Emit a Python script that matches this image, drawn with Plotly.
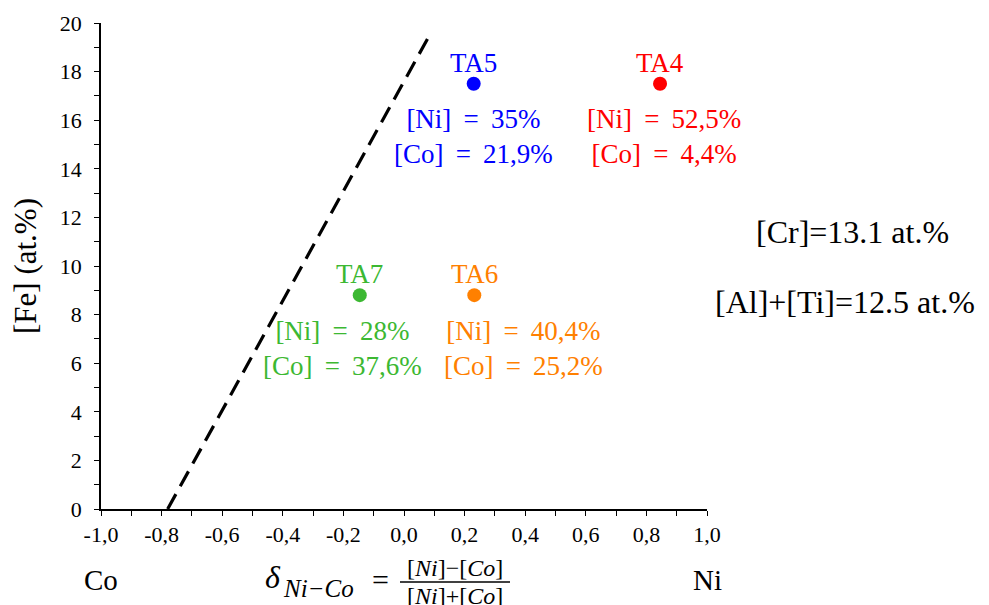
import plotly.graph_objects as go

# alloy compositions (at.%)
alloys = ["TA5", "TA4", "TA7", "TA6"]
ni_pct = ["35", "52,5", "28", "40,4"]
co_pct = ["21,9", "4,4", "37,6", "25,2"]
delta = [0.23, 0.845, -0.146, 0.232]
fe = [17.5, 17.5, 8.8, 8.8]
colors = ["#0000ff", "#ff0000", "#3cb832", "#ff8000"]

# dashed boundary line
line_x = [-0.78, 0.08]
line_y = [0, 19.4]

x_ticks = [-1.0, -0.8, -0.6, -0.4, -0.2, 0.0, 0.2, 0.4, 0.6, 0.8, 1.0]
x_ticktext = ["-1,0", "-0,8", "-0,6", "-0,4", "-0,2", "0,0", "0,2", "0,4", "0,6", "0,8", "1,0"]
y_ticks = [0, 2, 4, 6, 8, 10, 12, 14, 16, 18, 20]

W, H = 989, 605
OFF = 8  # page body margin
L, R, T, B = 101 - OFF, 282 + OFF, 23 - OFF, 96 + OFF
FONT = "Liberation Serif, DejaVu Serif, serif"
EQ = " \u2009=\u2009 "


def px(x):
    return (x - OFF - L) / (W - L - R)


def py(y):
    return (H - B - (y - OFF)) / (H - B - T)


def label(x, y, text, size, **kw):
    fig.add_annotation(xref="paper", yref="paper", x=px(x), y=py(y), text=text,
                       showarrow=False, xanchor=kw.pop("xanchor", "center"), yanchor="middle",
                       font=dict(size=size, color="black", family=FONT), **kw)


fig = go.Figure()

fig.add_trace(go.Scatter(
    x=line_x, y=line_y, mode="lines",
    line=dict(color="black", width=3.2, dash="17px,9px"),
    showlegend=False, hoverinfo="skip",
))

fig.add_trace(go.Scatter(
    x=delta, y=fe, mode="markers",
    marker=dict(size=14, color=colors),
    showlegend=False, cliponaxis=False,
))

# text offsets (pixels) for the composition labels
comp_shift_x = [0, 4, -17, 49]
for i, name in enumerate(alloys):
    fig.add_annotation(
        x=delta[i], y=fe[i], text=name, showarrow=False,
        xanchor="center", yanchor="middle",
        yshift=21, font=dict(size=27, color=colors[i], family=FONT),
    )
    fig.add_annotation(
        x=delta[i], y=fe[i],
        text=f"[Ni]{EQ}{ni_pct[i]}%<br>[Co]{EQ}{co_pct[i]}%",
        showarrow=False, xanchor="center", yanchor="middle",
        xshift=comp_shift_x[i], yshift=-53,
        font=dict(size=27, color=colors[i], family=FONT),
    )

label(852, 232, "[Cr]=13.1 at.%", 32)
label(845, 302, "[Al]+[Ti]=12.5 at.%", 32)

# bottom labels
label(101, 580, "Co", 29)
label(707, 580, "Ni", 29)
label(273, 577, "<i>δ</i>", 32)
label(318, 588, "<i>Ni−Co</i>", 25)
label(380, 579, "=", 30)
label(455, 568, "[<i>Ni</i>]−[<i>Co</i>]", 24)
label(455, 596, "[<i>Ni</i>]+[<i>Co</i>]", 24)
fig.add_shape(type="line", xref="paper", yref="paper",
              x0=px(400), x1=px(510), y0=py(582), y1=py(582),
              line=dict(color="black", width=1.3))

axis_style = dict(
    showgrid=False, zeroline=False, showline=True, linecolor="black", linewidth=1.5,
    ticks="outside", ticklen=5, tickwidth=1.3, tickcolor="black", automargin=False,
    tickfont=dict(size=22, color="black", family=FONT),
)

fig.update_xaxes(
    range=[-1, 1], tickvals=x_ticks, ticktext=x_ticktext,
    minor=dict(dtick=0.1, tick0=0, ticks="outside", ticklen=5, tickcolor="black", tickwidth=1.3),
    ticklabelstandoff=0, **axis_style,
)
fig.update_yaxes(
    range=[0, 20], tickvals=y_ticks,
    minor=dict(dtick=1, tick0=0, ticks="outside", ticklen=5, tickcolor="black", tickwidth=1.3),
    ticklabelstandoff=8,
    title=dict(text="[Fe] (at.%)", font=dict(size=31, color="black", family=FONT), standoff=20),
    **axis_style,
)

fig.update_layout(
    width=W, height=H,
    margin=dict(l=L, r=R, t=T, b=B),
    plot_bgcolor="white", paper_bgcolor="white",
    font=dict(family=FONT, color="black"),
)

fig.write_html("out.html")
